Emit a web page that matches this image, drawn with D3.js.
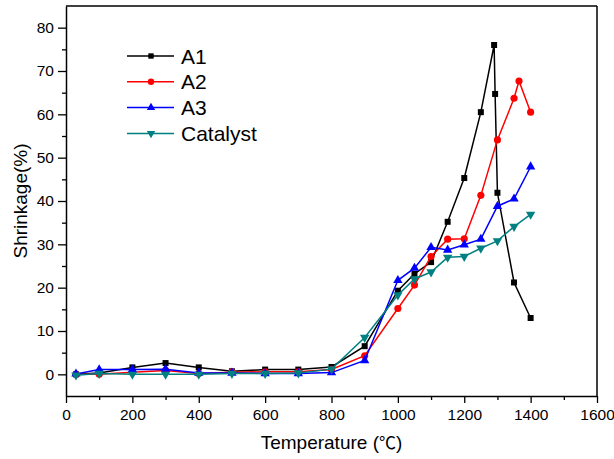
<!DOCTYPE html>
<html>
<head>
<meta charset="utf-8">
<script src="https://cdn.jsdelivr.net/npm/d3@7"></script>
<style>
  html, body { margin: 0; padding: 0; background: #fff; }
  svg { display: block; font-family: "Liberation Sans", Arial, sans-serif; }
</style>
</head>
<body>
<svg id="chart" width="614" height="459"></svg>
<script>
// Sintering temperatures (°C)
const tempsCommon = [30, 100, 200, 300, 400, 500, 600, 700, 800, 900, 1000, 1050, 1100, 1150, 1200, 1250, 1300, 1350, 1400];
const tempsA1 = [30, 100, 200, 300, 400, 500, 600, 700, 800, 900, 1000, 1050, 1100, 1150, 1200, 1250, 1290, 1293, 1300, 1350, 1400];
const tempsA2 = [30, 100, 200, 300, 400, 500, 600, 700, 800, 900, 1000, 1050, 1100, 1150, 1200, 1250, 1300, 1350, 1365, 1400];

// Shrinkage (%)
const shrinkA1 = [0, 0.3, 1.6, 2.6, 1.6, 0.7, 1.1, 1.1, 1.7, 6.5, 19.3, 23.2, 25.9, 35.2, 45.3, 60.5, 76.0, 64.7, 41.9, 21.2, 13.0];
const shrinkA2 = [0, 0, 0.5, 0.9, 0.2, 0.5, 0.6, 0.6, 1.1, 4.3, 15.2, 20.6, 27.2, 31.2, 31.3, 41.3, 54.1, 63.7, 67.7, 60.5];
const shrinkA3 = [0.1, 1.1, 1.1, 1.2, 0.3, 0.3, 0.2, 0.2, 0.4, 3.2, 21.7, 24.5, 29.3, 28.7, 29.9, 31.2, 38.8, 40.5, 47.9];
const shrinkCatalyst = [-0.2, 0.2, 0, 0, 0, 0.2, 0.2, 0.3, 1.2, 8.5, 18.3, 22.0, 23.6, 27.0, 27.2, 29.1, 30.8, 34.1, 36.9];

const seriesNames = ["A1", "A2", "A3", "Catalyst"];

// Axis ticks
const xMajorTicks = [0, 200, 400, 600, 800, 1000, 1200, 1400, 1600];
const xMinorTicks = [100, 300, 500, 700, 900, 1100, 1300, 1500];
const yMajorTicks = [0, 10, 20, 30, 40, 50, 60, 70, 80];
const yMinorTicks = [5, 15, 25, 35, 45, 55, 65, 75];

const series = [
  { name: seriesNames[0], xs: tempsA1, ys: shrinkA1, color: "#000000", symbol: d3.symbolSquare, size: 36, rotate: 0 },
  { name: seriesNames[1], xs: tempsA2, ys: shrinkA2, color: "#ff0000", symbol: d3.symbolCircle, size: 40, rotate: 0 },
  { name: seriesNames[2], xs: tempsCommon, ys: shrinkA3, color: "#0000ff", symbol: d3.symbolTriangle, size: 38, rotate: 0 },
  { name: seriesNames[3], xs: tempsCommon, ys: shrinkCatalyst, color: "#008080", symbol: d3.symbolTriangle, size: 38, rotate: 180 }
];

const svg = d3.select("#chart");
const plotLeft = 66, plotRight = 597, plotTop = 6, plotBottom = 396;

const x = d3.scaleLinear().domain([0, 1600]).range([plotLeft, plotRight]);
const y = d3.scaleLinear().domain([-5, 85]).range([plotBottom, plotTop]);

// Frame: top and right edges
svg.append("line").attr("x1", plotLeft).attr("x2", plotRight).attr("y1", plotTop).attr("y2", plotTop)
  .attr("stroke", "#000").attr("stroke-width", 1.5);
svg.append("line").attr("x1", plotRight).attr("x2", plotRight).attr("y1", plotTop).attr("y2", plotBottom)
  .attr("stroke", "#000").attr("stroke-width", 1.5);

function styleAxis(g) {
  g.select(".domain").attr("stroke-width", 1.5);
  g.selectAll(".tick line").attr("stroke-width", 1.3);
  g.selectAll("text").attr("font-size", 15.5).attr("fill", "#000")
    .attr("font-family", "'Liberation Sans', Arial, sans-serif");
}

// Bottom axis: minor then major
svg.append("g").attr("transform", `translate(0,${plotBottom})`)
  .call(d3.axisBottom(x).tickValues(xMinorTicks).tickSize(4).tickFormat(""))
  .call(g => { g.select(".domain").remove(); g.selectAll(".tick line").attr("stroke-width", 1.3); });
svg.append("g").attr("transform", `translate(0,${plotBottom})`)
  .call(d3.axisBottom(x).tickValues(xMajorTicks).tickSize(7).tickSizeOuter(0).tickPadding(6).tickFormat(d3.format("d")))
  .call(styleAxis);

// Left axis: minor then major
svg.append("g").attr("transform", `translate(${plotLeft},0)`)
  .call(d3.axisLeft(y).tickValues(yMinorTicks).tickSize(4).tickFormat(""))
  .call(g => { g.select(".domain").remove(); g.selectAll(".tick line").attr("stroke-width", 1.3); });
svg.append("g").attr("transform", `translate(${plotLeft},0)`)
  .call(d3.axisLeft(y).tickValues(yMajorTicks).tickSize(8).tickSizeOuter(0).tickPadding(4).tickFormat(d3.format("d")))
  .call(styleAxis);

// Axis titles
const xTitle = svg.append("text")
  .attr("x", (plotLeft + plotRight) / 2).attr("y", 449)
  .attr("text-anchor", "middle").attr("font-size", 19);
xTitle.append("tspan").text("Temperature (");
xTitle.append("tspan").attr("font-family", "'Noto Sans CJK SC', sans-serif").attr("font-size", 17).text("℃");
xTitle.append("tspan").text(")");

svg.append("text")
  .attr("transform", `translate(27,${(plotTop + plotBottom) / 2}) rotate(-90)`)
  .attr("text-anchor", "middle").attr("font-size", 19)
  .text("Shrinkage(%)");

// Series lines and markers
const line = d3.line().x(d => x(d[0])).y(d => y(d[1]));
series.forEach(s => {
  const pts = s.xs.map((t, i) => [t, s.ys[i]]);
  const g = svg.append("g");
  g.append("path").datum(pts)
    .attr("fill", "none").attr("stroke", s.color).attr("stroke-width", 1.5)
    .attr("d", line);
  g.selectAll("path.mk").data(pts).join("path").attr("class", "mk")
    .attr("transform", d => `translate(${x(d[0])},${y(d[1])}) rotate(${s.rotate})`)
    .attr("d", d3.symbol().type(s.symbol).size(s.size))
    .attr("fill", s.color);
});

// Legend
const legend = svg.append("g");
series.forEach((s, i) => {
  const ly = 56 + i * 25.8;
  legend.append("line").attr("x1", 127).attr("x2", 174).attr("y1", ly).attr("y2", ly)
    .attr("stroke", s.color).attr("stroke-width", 1.5);
  legend.append("path")
    .attr("transform", `translate(151,${ly}) rotate(${s.rotate})`)
    .attr("d", d3.symbol().type(s.symbol).size(s.size * 0.8))
    .attr("fill", s.color);
  legend.append("text").attr("x", 181).attr("y", ly + 7.5)
    .attr("font-size", 21).text(s.name);
});
</script>
</body>
</html>
